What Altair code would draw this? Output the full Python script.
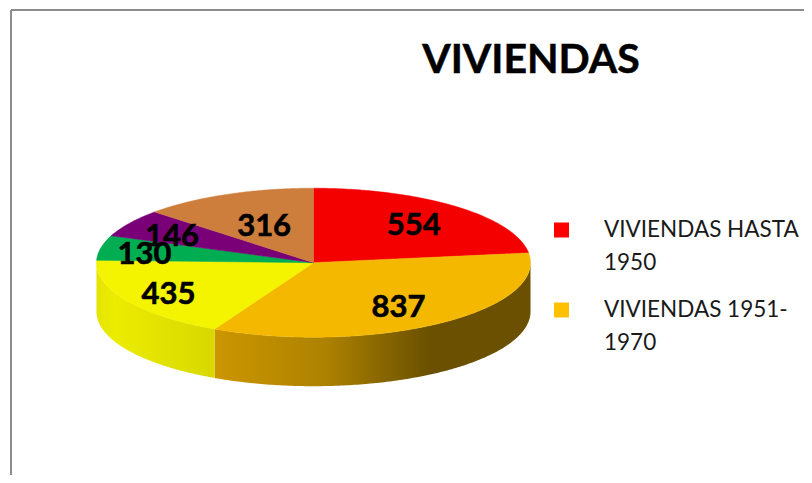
import math
import altair as alt
import pandas as pd

# Data
categories = ["VIVIENDAS HASTA 1950", "VIVIENDAS 1951-1970", "VIVIENDAS 1971-1980",
              "VIVIENDAS 1981-1990", "VIVIENDAS 1991-2000", "VIVIENDAS 2001-2010"]
values = [554, 837, 435, 130, 146, 316]
title_text = "VIVIENDAS"
legend_lines = [["VIVIENDAS HASTA", "1950"], ["VIVIENDAS 1951-", "1970"]]

# Styles
top_colors = ["#f50000", "#f4b800", "#f4f400", "#00ad50", "#7a0078", "#cd7d3c"]
legend_colors = ["#ff0000", "#ffc000"]
FONT = "Lato"
W, H = 796, 467
CX, CY, RX, RY, DEPTH = 305.5, 254.7, 217, 74.5, 49
label_radial = [(0.70, 0.65), (0.68, 0.74), (0.776, 0.85), (0.795, 0.50), (0.77, 0.66), (0.57, 0.52)]

X = alt.X("x:Q", scale=alt.Scale(domain=[0, W], nice=False), axis=None)
Y = alt.Y("y:Q", scale=alt.Scale(domain=[H, 0], nice=False), axis=None)

total = sum(values)
edges = [0.0]
for v in values:
    edges.append(edges[-1] + v / total * 360)


def pt(angle, fx=1.0, fy=1.0):
    a = math.radians(angle)
    return CX + RX * fx * math.sin(a), CY - RY * fy * math.cos(a)


layers = []

# Side walls (only the part of the rim that faces the viewer)
side_specs = [
    (90, edges[2], [(0, "#cc9600"), (0.35, "#ad8200"), (0.68, "#6a5000"), (1, "#6a5000")]),
    (edges[2], 270, [(0, "#e4e400"), (0.15, "#ecec00"), (1, "#d8d800")]),
]
for a0, a1, stops in side_specs:
    rows = []
    n = 160
    for i in range(n + 1):
        ang = a0 + (a1 - a0) * i / n
        x, y = pt(ang)
        rows.append({"x": x, "y": y, "y2": y + DEPTH})
    layers.append(
        alt.Chart(pd.DataFrame(rows)).mark_area(
            color=alt.Gradient(
                gradient="linear", x1=0, x2=1, y1=0, y2=0,
                stops=[alt.GradientStop(offset=o, color=c) for o, c in stops],
            )
        ).encode(x=X, y=Y, y2="y2:Q")
    )

# Top face wedges
for k, col in enumerate(top_colors):
    a0, a1 = edges[k], edges[k + 1]
    rows = [{"x": CX, "y": CY, "i": 0}]
    n = max(8, int(a1 - a0) * 2)
    for i in range(n + 1):
        x, y = pt(a0 + (a1 - a0) * i / n)
        rows.append({"x": x, "y": y, "i": i + 1})
    rows.append({"x": CX, "y": CY, "i": n + 2})
    layers.append(
        alt.Chart(pd.DataFrame(rows)).mark_line(fill=col, stroke=col, strokeWidth=0.5).encode(
            x=X, y=Y, order="i:Q"
        )
    )

# Value labels
lab_rows = []
for k, v in enumerate(values):
    x, y = pt((edges[k] + edges[k + 1]) / 2, *label_radial[k])
    lab_rows.append({"x": x, "y": y, "t": str(v)})
layers.append(
    alt.Chart(pd.DataFrame(lab_rows)).mark_text(
        font=FONT, fontWeight="bold", fontSize=31, color="#000000", stroke="#000000", strokeWidth=0.6,
        align="center", baseline="middle"
    ).encode(x=X, y=Y, text="t:N")
)

# Title
layers.append(
    alt.Chart(pd.DataFrame([{"x": 523, "y": 53, "t": title_text}])).mark_text(
        font=FONT, fontWeight="bold", fontSize=41, color="#000000", stroke="#000000", strokeWidth=0.5,
        align="center", baseline="middle"
    ).encode(x=X, y=Y, text="t:N")
)

# Legend
sq_rows, txt_rows = [], []
for k, lines in enumerate(legend_lines):
    top = 222 + k * 80
    sq_rows.append({"x": 553.5, "y": top, "c": legend_colors[k], "cat": categories[k]})
    for j, line in enumerate(lines):
        txt_rows.append({"x": 596, "y": top + j * 33, "t": line})
layers.append(
    alt.Chart(pd.DataFrame(sq_rows)).mark_square(size=225, opacity=1, filled=True).encode(
        x=X, y=Y, color=alt.Color("c:N", scale=None)
    )
)
layers.append(
    alt.Chart(pd.DataFrame(txt_rows)).mark_text(
        font=FONT, fontSize=22.5, color="#1a1a1a", align="left", baseline="middle"
    ).encode(x=X, y=Y, text="t:N")
)

# Chart frame
frame_v = pd.DataFrame([{"x": 3, "y": 2}, {"x": 3, "y": H}])
frame_h = pd.DataFrame([{"x": 3, "y": 2}, {"x": W, "y": 2}])
for fr in (frame_v, frame_h):
    layers.append(
        alt.Chart(fr).mark_line(color="#8c8c8c", strokeWidth=2).encode(x=X, y=Y)
    )

chart = alt.layer(*layers).properties(
    width=W, height=H, padding=0, autosize=alt.AutoSizeParams(type="none"), background="#ffffff"
).configure_view(stroke=None)

chart.save("out.html", embed_options={"renderer": "svg", "actions": False})
